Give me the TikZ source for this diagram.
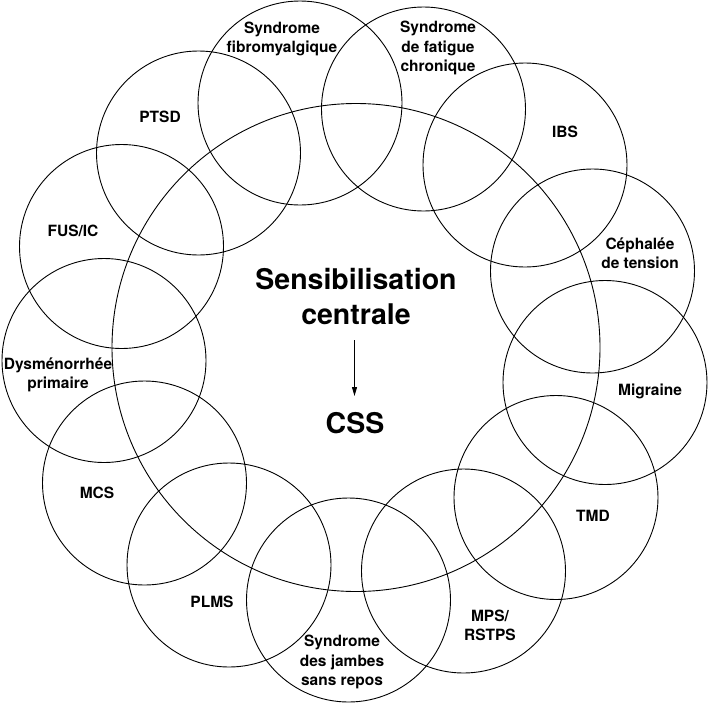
\documentclass[tikz,border=0pt]{standalone}
\usepackage{fontspec}
\setmainfont{TeX Gyre Heros}
\usetikzlibrary{arrows.meta}
\begin{document}
\begin{tikzpicture}[x=1pt,y=-1pt,
  ring/.style={draw, circle, minimum size=204pt, inner sep=0pt, line width=0.9pt},
  bigring/.style={draw, circle, minimum size=488pt, inner sep=0pt, line width=0.9pt},
  lbl/.style={font=\fontsize{15.5}{19.5}\selectfont\bfseries, align=center, inner sep=0pt},
  ctext/.style={font=\fontsize{28.5}{35}\selectfont\bfseries, align=center, inner sep=0pt},
  csstext/.style={font=\fontsize{28.5}{34}\selectfont\bfseries, inner sep=0pt}]
\useasboundingbox (0,0) rectangle (710,705);
\fill[white] (0,0) rectangle (710,705);

\node[bigring] (big) at (356,347.5) {};

\node[ring] (c1) at (300,103) {};
\node[ring] (c2) at (423.5,109) {};
\node[ring] (c3) at (525,165) {};
\node[ring] (c4) at (592.5,271) {};
\node[ring] (c5) at (605,382.5) {};
\node[ring] (c6) at (556,497.5) {};
\node[ring] (c7) at (463.5,571) {};
\node[ring] (c8) at (348.5,600) {};
\node[ring] (c9) at (229,565) {};
\node[ring] (c10) at (144.5,483) {};
\node[ring] (c11) at (104,360.5) {};
\node[ring] (c12) at (121.5,246.5) {};
\node[ring] (c13) at (198.5,153) {};

\node[lbl] (t1) at (282,39) {Syndrome\\fibromyalgique};
\node[lbl] (t2) at (438,48) {Syndrome\\de fatigue\\chronique};
\node[lbl] (t3) at (565,132) {IBS};
\node[lbl] (t4) at (640,253) {Céphalée\\de tension};
\node[lbl] (t5) at (650,391) {Migraine};
\node[lbl] (t6) at (593,516) {TMD};
\node[lbl] (t7) at (490,625.5) {MPS/\\RSTPS};
\node[lbl] (t8) at (342,662) {Syndrome\\des jambes\\sans repos};
\node[lbl] (t9) at (212,602) {PLMS};
\node[lbl] (t10) at (97,493) {MCS};
\node[lbl] (t11) at (58,375) {Dysménorrhée\\primaire};
\node[lbl] (t12) at (73,231) {FUS/IC};
\node[lbl] (t13) at (160,117) {PTSD};

\node[ctext] (sc) at (356,297) {Sensibilisation\\centrale};
\node[csstext] (css) at (355,423) {CSS};
\coordinate (a1) at (354.5,340);
\coordinate (a2) at (354.5,396);
\draw[line width=0.9pt, -{Triangle[length=9pt,width=5pt]}] (a1) -- (a2);
\end{tikzpicture}
\end{document}
